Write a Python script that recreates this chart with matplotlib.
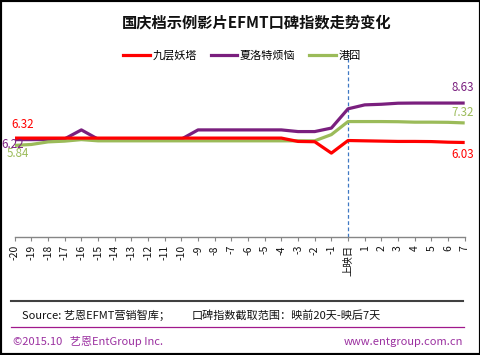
import matplotlib
matplotlib.use("Agg")
import matplotlib.pyplot as plt
from matplotlib.lines import Line2D
from matplotlib.patches import Rectangle

plt.rcParams['font.family'] = ['Noto Sans CJK SC', 'DejaVu Sans']

days = ['-20', '-19', '-18', '-17', '-16', '-15', '-14', '-13', '-12', '-11',
        '-10', '-9', '-8', '-7', '-6', '-5', '-4', '-3', '-2', '-1',
        '上映日', '1', '2', '3', '4', '5', '6', '7']

jiuceng = [6.32, 6.32, 6.32, 6.32, 6.32, 6.32, 6.32, 6.32, 6.32, 6.32,
           6.32, 6.32, 6.32, 6.32, 6.32, 6.32, 6.32, 6.10, 6.08, 5.33,
           6.16, 6.14, 6.12, 6.10, 6.10, 6.09, 6.05, 6.03]
xialuote = [6.22, 6.22, 6.23, 6.27, 6.86, 6.25, 6.25, 6.25, 6.25, 6.25,
            6.25, 6.86, 6.86, 6.86, 6.86, 6.86, 6.86, 6.75, 6.75, 6.98,
            8.25, 8.51, 8.55, 8.62, 8.63, 8.63, 8.63, 8.63]
gangjiong = [5.84, 5.90, 6.07, 6.12, 6.22, 6.14, 6.14, 6.14, 6.14, 6.14,
             6.14, 6.14, 6.14, 6.14, 6.14, 6.14, 6.14, 6.14, 6.14, 6.55,
             7.41, 7.41, 7.41, 7.40, 7.37, 7.37, 7.36, 7.32]

series_names = ['九层妖塔', '夏洛特烦恼', '港囧']
colors = ['#FF0000', '#7A1F7E', '#9BBB59']

title = '国庆档示例影片EFMT口碑指数走势变化'
source_text = 'Source: 艺恩EFMT营销智库；'
range_text = '口碑指数截取范围：映前20天-映后7天'
copyright_text = '©2015.10   艺恩EntGroup Inc.'
url_text = 'www.entgroup.com.cn'

W, H = 481, 355
fig = plt.figure(figsize=(W / 100, H / 100), dpi=100)
fig.patch.set_facecolor('white')

ax = fig.add_axes([14.7 / W, 1 - 236.7 / H, (464.7 - 14.7) / W, (236.7 - 58) / H])
x = list(range(len(days)))
data = [jiuceng, xialuote, gangjiong]
zorders = [4, 2, 3]
for vals, c, z in zip(data, colors, zorders):
    ax.plot(x, vals, color=c, lw=2.3, zorder=z, solid_capstyle='butt')

ax.set_xlim(0, len(days) - 1)
ax.set_ylim(-0.18, 11.6)
ax.set_yticks([])
for s in ['left', 'right', 'top']:
    ax.spines[s].set_visible(False)
ax.spines['bottom'].set_color('#868686')
ax.spines['bottom'].set_linewidth(1.0)
ax.set_xticks(x)
ax.set_xticklabels(days, rotation=90, fontsize=7.5, color='#111111')
ax.tick_params(axis='x', direction='out', length=3, width=0.8, color='#868686', pad=3)

# release day dashed line
rel = days.index('上映日')
ax.axvline(rel, color='#3F78C4', lw=0.9, ls=(0, (3, 2)), zorder=1)

# data labels
fs_lab = 8.3
ax.annotate(f'{jiuceng[0]:.2f}', (x[0], jiuceng[0]), xytext=(5.8, 10), textcoords='offset points',
            ha='center', va='center', color=colors[0], fontsize=fs_lab)
ax.annotate(f'{xialuote[0]:.2f}', (x[0], xialuote[0]), xytext=(-1.4, -3.2), textcoords='offset points',
            ha='center', va='center', color=colors[1], fontsize=fs_lab, zorder=6)
ax.annotate(f'{gangjiong[0]:.2f}', (x[0], gangjiong[0]), xytext=(2.2, -6.0), textcoords='offset points',
            ha='center', va='center', color=colors[2], fontsize=fs_lab, zorder=6)
ax.annotate(f'{xialuote[-1]:.2f}', (x[-1], xialuote[-1]), xytext=(-1.2, 11), textcoords='offset points',
            ha='center', va='center', color=colors[1], fontsize=fs_lab)
ax.annotate(f'{gangjiong[-1]:.2f}', (x[-1], gangjiong[-1]), xytext=(-1.2, 7.4), textcoords='offset points',
            ha='center', va='center', color=colors[2], fontsize=fs_lab)
ax.annotate(f'{jiuceng[-1]:.2f}', (x[-1], jiuceng[-1]), xytext=(-1.2, -8.9), textcoords='offset points',
            ha='center', va='center', color=colors[0], fontsize=fs_lab)

# title
fig.text(257 / W, 1 - 22.7 / H, title, ha='center', va='center', fontsize=11, fontweight='bold', color='#111111')

# legend
handles = [Line2D([], [], color=c, lw=2.3) for c in colors]
fig.legend(handles, series_names, ncol=3, loc='center', bbox_to_anchor=(242 / W, 1 - 55.7 / H),
           frameon=False, fontsize=8, handlelength=2.4, handletextpad=0.25, columnspacing=1.2,
           borderaxespad=0, borderpad=0)

# footer
fig.add_artist(Line2D([11 / W, 463 / W], [1 - 301 / H, 1 - 301 / H], transform=fig.transFigure,
                      color='#404040', lw=1.5))
fig.add_artist(Line2D([11 / W, 464 / W], [1 - 327.3 / H, 1 - 327.3 / H], transform=fig.transFigure,
                      color='#A0188C', lw=0.9))
fig.text(22 / W, 1 - 315 / H, source_text, ha='left', va='center', fontsize=8, color='#111111')
fig.text(192 / W, 1 - 315 / H, range_text, ha='left', va='center', fontsize=8, color='#111111')
fig.text(13 / W, 1 - 341.7 / H, copyright_text, ha='left', va='center', fontsize=8, color='#9B30A0')
fig.text(463 / W, 1 - 341.7 / H, url_text, ha='right', va='center', fontsize=8, color='#9B30A0')

# border
fig.add_artist(Rectangle((0, 0), 1, 1, transform=fig.transFigure, fill=False, edgecolor='black', lw=3))

fig.savefig('out.png', dpi=100)
